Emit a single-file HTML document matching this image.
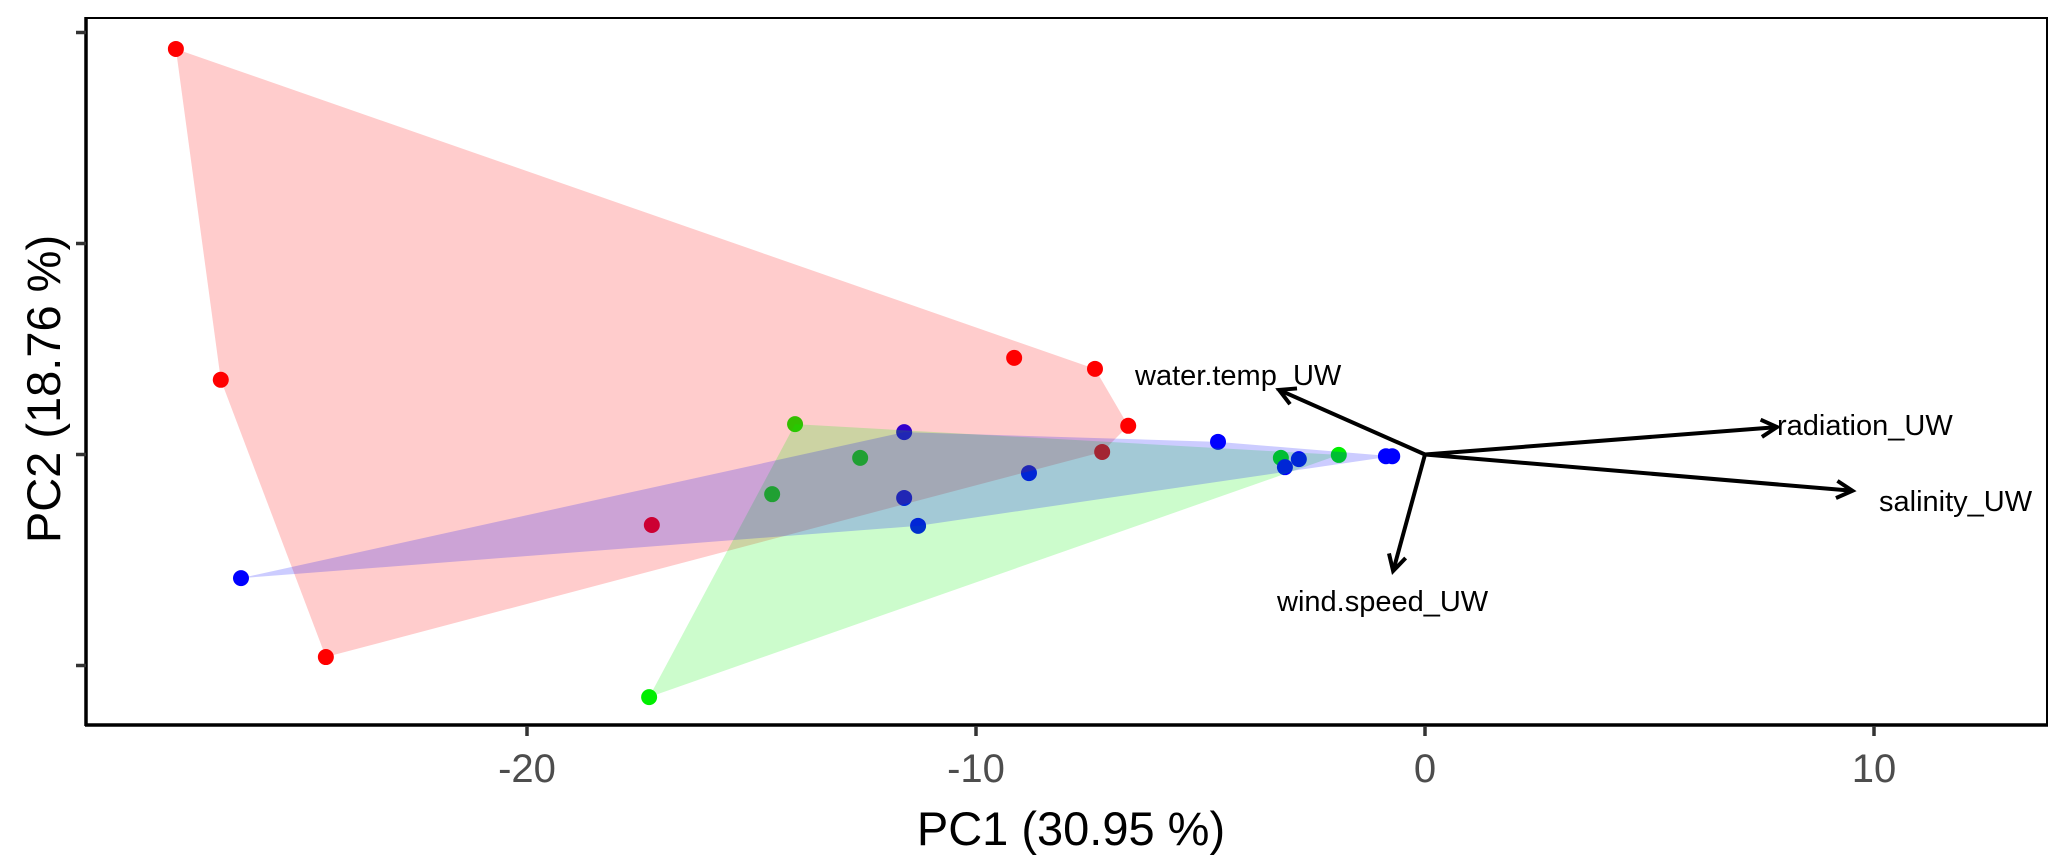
<!DOCTYPE html>
<html><head><meta charset="utf-8"><style>
html,body{margin:0;padding:0;background:#fff;}
svg{display:block;font-family:"Liberation Sans",Arial,sans-serif;}
</style></head><body>
<svg id="chart" width="2067" height="865" viewBox="0 0 2067 865" xmlns="http://www.w3.org/2000/svg">
<g id="hulls"></g>
<g id="points"></g>
<g id="arrows"></g>
<rect x="86" y="18" width="1961" height="707" fill="none" stroke="#000" stroke-width="2"/>
<line x1="85" y1="725" x2="2048" y2="725" stroke="#000" stroke-width="3.5"/>
<line x1="86" y1="17" x2="86" y2="726" stroke="#000" stroke-width="3.5"/>
<g id="xticks"></g>
<g id="yticks"></g>
<text x="1071" y="845" font-size="47" text-anchor="middle" fill="#000">PC1 (30.95 %)</text>
<text transform="translate(60,389) rotate(-90)" font-size="47" text-anchor="middle" fill="#000">PC2 (18.76 %)</text>
</svg>
<script>
const redX=[-27.82,-26.82,-24.48,-9.15,-7.35,-6.61,-7.19,-17.22];
const redY=[9.61,1.77,-4.80,2.29,2.03,0.68,0.06,-1.67];
const greenX=[-14.03,-12.58,-14.54,-3.21,-1.92,-17.28];
const greenY=[0.72,-0.08,-0.94,-0.08,-0.01,-5.75];
const blueX=[-26.37,-11.60,-11.60,-8.82,-11.29,-4.61,-3.12,-2.81,-0.87,-0.73];
const blueY=[-2.93,0.53,-1.03,-0.44,-1.69,0.30,-0.30,-0.11,-0.04,-0.04];
const varNames=["water.temp_UW","radiation_UW","salinity_UW","wind.speed_UW"];
const varX=[-3.25,7.84,9.52,-0.71];
const varY=[1.53,0.65,-0.86,-2.76];
const xTicks=[-20,-10,0,10];
const xTickLabels=["-20","-10","0","10"];
const yTicks=[10,5,0,-5];

const sx=v=>1425+v*44.9;
const sy=v=>454.5-v*42.2;
const NS="http://www.w3.org/2000/svg";
function mk(tag,attrs,parent){const e=document.createElementNS(NS,tag);for(const k in attrs)e.setAttribute(k,attrs[k]);parent.appendChild(e);return e;}
function hull(pts){
  pts=pts.slice().sort((a,b)=>a[0]-b[0]||a[1]-b[1]);
  const cr=(o,a,b)=>(a[0]-o[0])*(b[1]-o[1])-(a[1]-o[1])*(b[0]-o[0]);
  const lo=[],up=[];
  for(const p of pts){while(lo.length>=2&&cr(lo[lo.length-2],lo[lo.length-1],p)<=0)lo.pop();lo.push(p);}
  for(let i=pts.length-1;i>=0;i--){const p=pts[i];while(up.length>=2&&cr(up[up.length-2],up[up.length-1],p)<=0)up.pop();up.push(p);}
  up.pop();lo.pop();return lo.concat(up);
}
const groups=[["red",redX,redY,"#ff0000"],["green",greenX,greenY,"#00ee00"],["blue",blueX,blueY,"#0000ff"]];
const gP=document.getElementById('points'),gH=document.getElementById('hulls'),gA=document.getElementById('arrows');
groups.forEach(([n,X,Y,c])=>{
  X.forEach((x,i)=>{
    const d=mk('circle',{cx:sx(x),cy:sy(Y[i]),r:8,fill:c},gP);
    
    
  });
});
groups.forEach(([n,X,Y,c])=>{
  const h=hull(X.map((x,i)=>[sx(x),sy(Y[i])]));
  const p=mk('polygon',{points:h.map(q=>q.join(',')).join(' '),fill:c,'fill-opacity':0.2},gH);
  
  
});
document.getElementById('chart').insertBefore(gP,gH);
const labelPos=[[1135,385,'start'],[1777,435,'start'],[1879,511,'start'],[1277,611,'start']];
varX.forEach((vx,i)=>{
  const x0=sx(0),y0=sy(0),x1=sx(vx),y1=sy(varY[i]);
  const l=mk('line',{x1:x0,y1:y0,x2:x1,y2:y1,stroke:'#000','stroke-width':4},gA);
  
  
  const a=Math.atan2(y1-y0,x1-x0),L=18,w=0.5;
  const hd=mk('polyline',{points:`${x1-L*Math.cos(a-w)},${y1-L*Math.sin(a-w)} ${x1},${y1} ${x1-L*Math.cos(a+w)},${y1-L*Math.sin(a+w)}`,fill:'none',stroke:'#000','stroke-width':4},gA);
  
  
  const t=mk('text',{x:labelPos[i][0],y:labelPos[i][1],'font-size':29,'text-anchor':labelPos[i][2],fill:'#000'},gA);
  t.textContent=varNames[i];
  
  
});
const gX=document.getElementById('xticks'),gY=document.getElementById('yticks');
xTicks.forEach((v,i)=>{
  const l=mk('line',{x1:sx(v),y1:726,x2:sx(v),y2:736,stroke:'#333','stroke-width':3.5},gX);
  
  
  const t=mk('text',{x:sx(v),y:782,'font-size':40,'text-anchor':'middle',fill:'#4d4d4d'},gX);
  t.textContent=xTickLabels[i];
  
  
});
yTicks.forEach(v=>{
  const l=mk('line',{x1:76,y1:sy(v),x2:86,y2:sy(v),stroke:'#333','stroke-width':3.5},gY);
  
  
});
</script>
</body></html>
